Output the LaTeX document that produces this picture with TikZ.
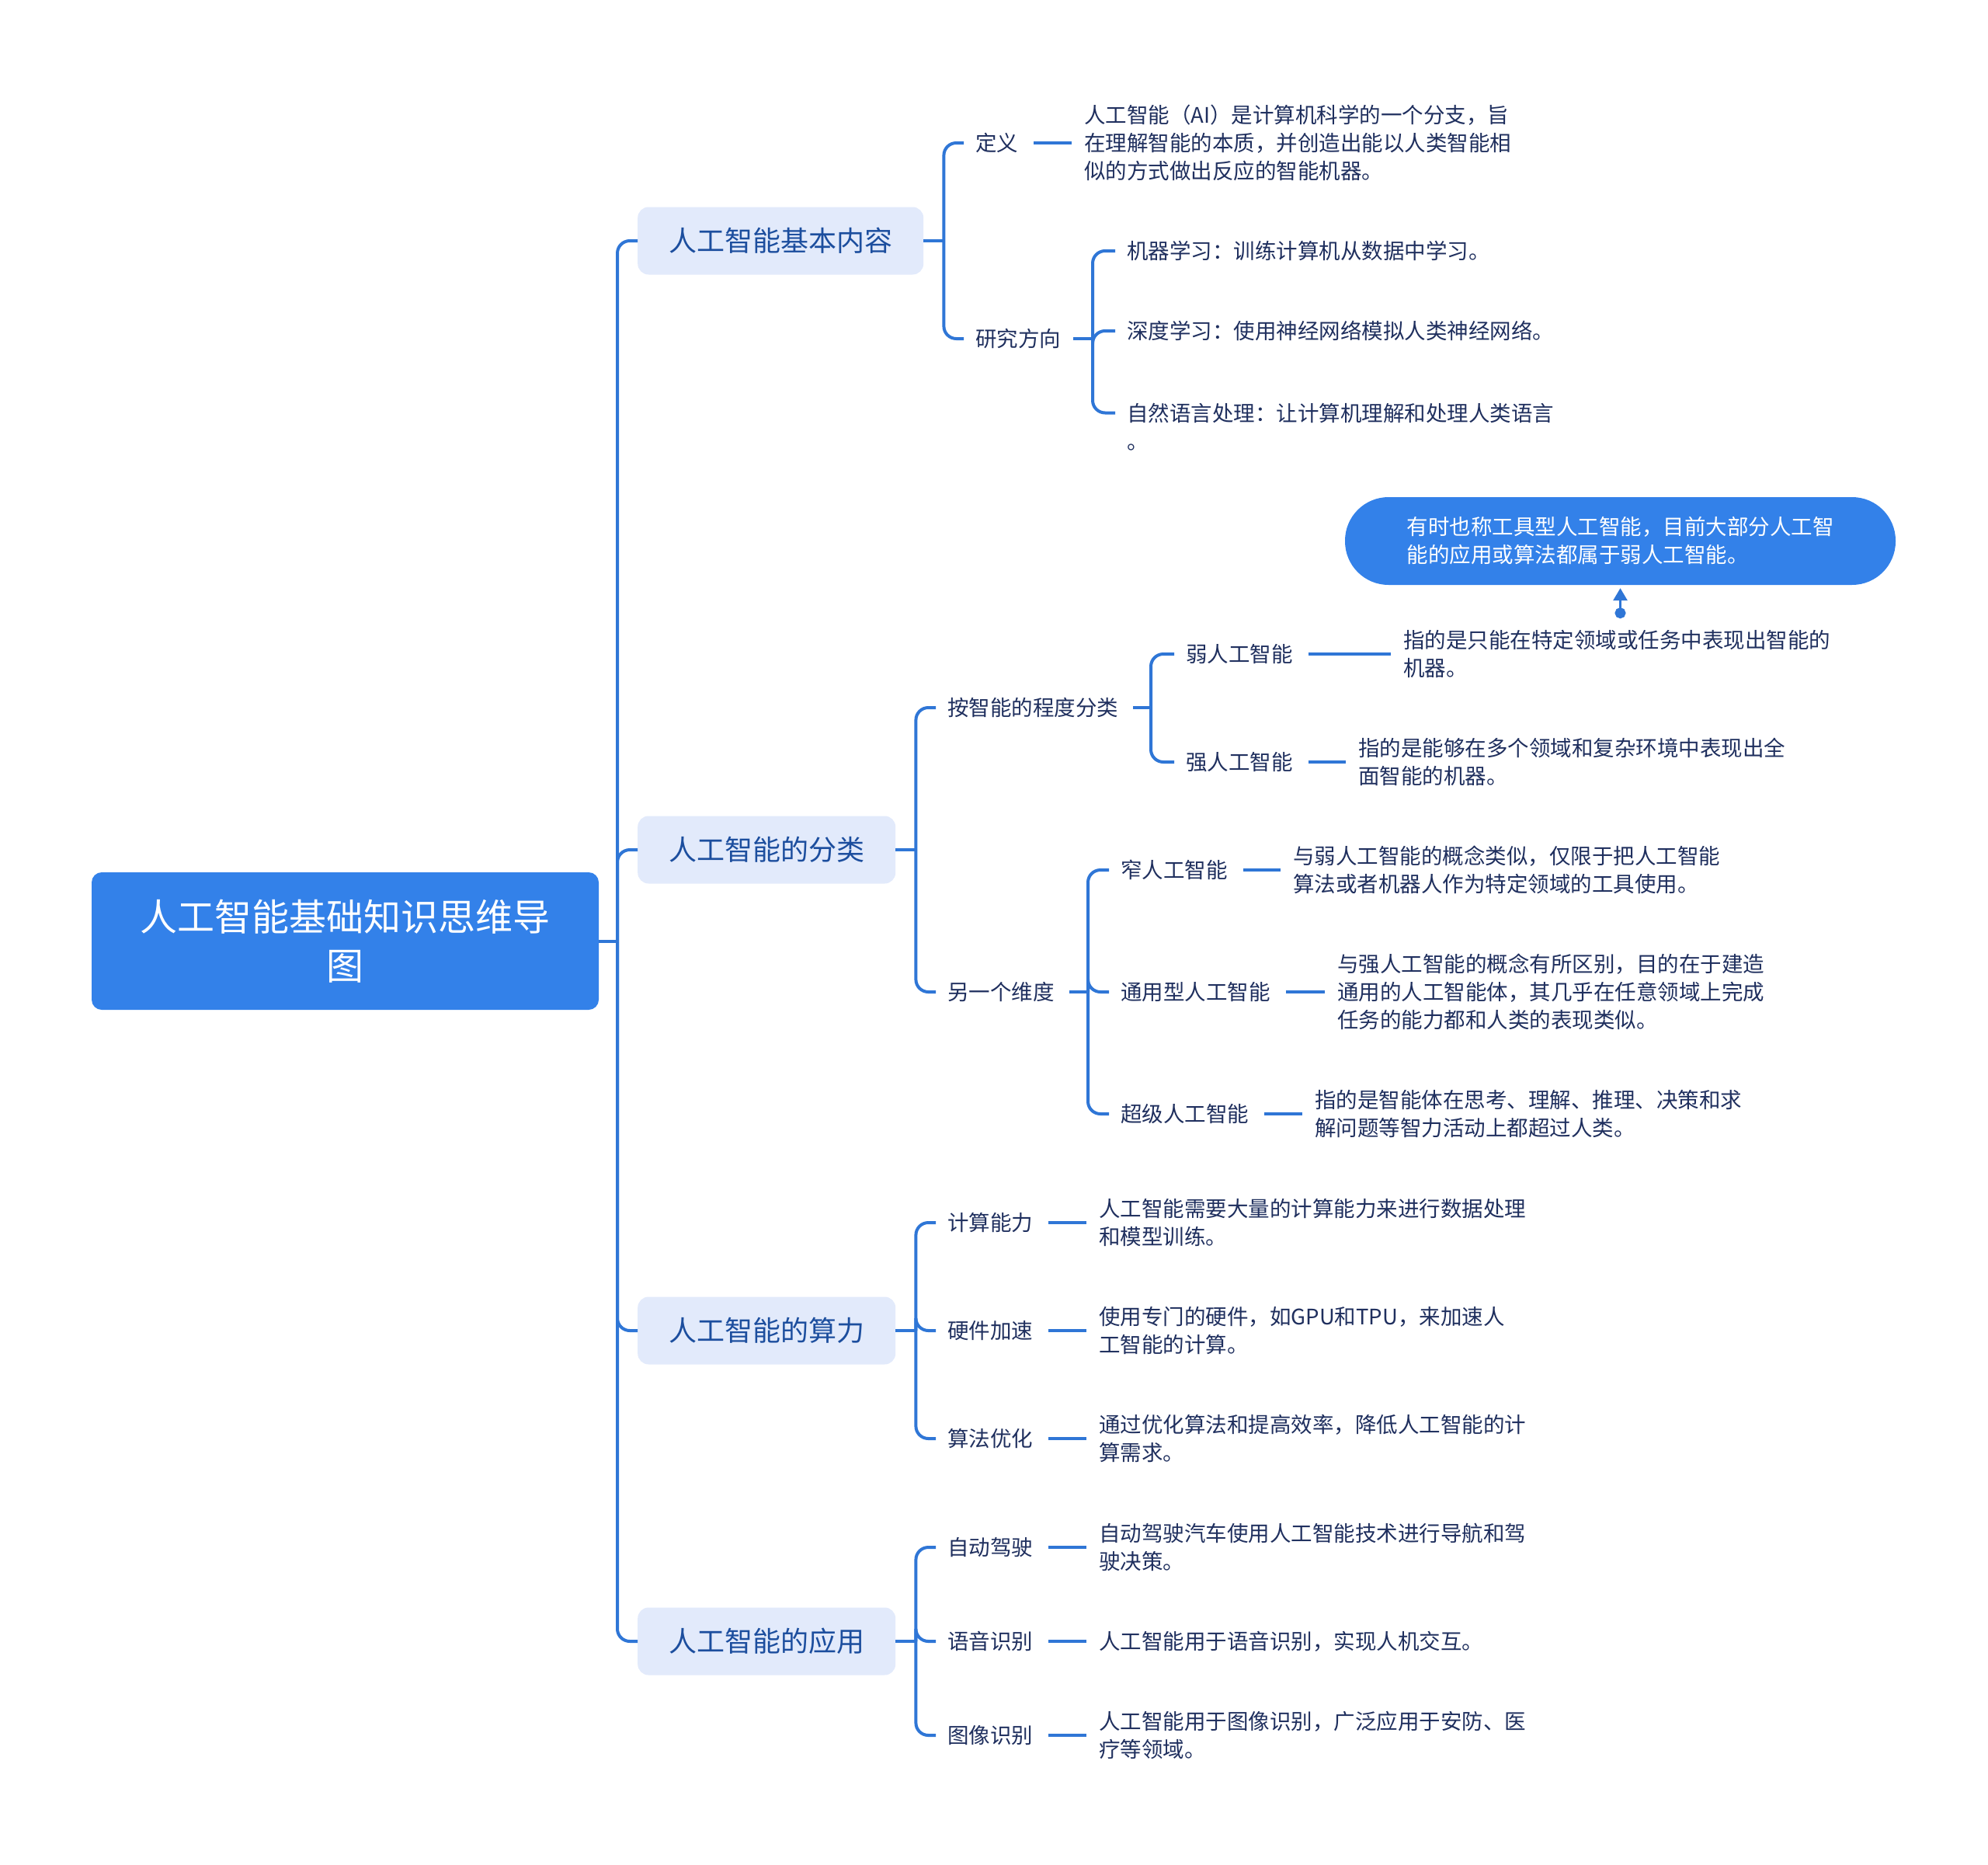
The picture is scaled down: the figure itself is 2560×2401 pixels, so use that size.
\documentclass[tikz,border=0pt]{standalone}
\usepackage{fontspec}
\setmainfont{Noto Sans CJK SC}
\usetikzlibrary{arrows.meta,calc}
\definecolor{lineblue}{HTML}{2F76D6}
\definecolor{rootblue}{HTML}{3381E9}
\definecolor{lonefill}{HTML}{E2EAFB}
\definecolor{lonetext}{HTML}{1C4E9E}
\definecolor{txtcol}{HTML}{1F2F5E}
\begin{document}
\begin{tikzpicture}[x=1pt,y=-1pt,
  conn/.style={draw=lineblue, line width=4pt},
  bracketline/.style={draw=lineblue, line width=4pt, rounded corners=16pt},
  rootbox/.style={fill=rootblue, rounded corners=13pt, minimum width=653pt, minimum height=177pt,
    text=white, align=center, inner sep=0pt, font=\fontsize{48pt}{63pt}\selectfont},
  lonebox/.style={fill=lonefill, rounded corners=14pt, minimum height=87pt, text=lonetext,
    inner sep=0pt, anchor=west, font=\fontsize{36pt}{44pt}\selectfont},
  ltwo/.style={text=txtcol, inner xsep=15pt, inner ysep=2pt, anchor=west, align=left,
    font=\fontsize{27.5pt}{36pt}\selectfont},
  detail/.style={ltwo},
  calloutbox/.style={fill=rootblue, rounded corners=56pt, minimum width=709pt, minimum height=113pt,
    text=white, align=left, inner sep=0pt, font=\fontsize{27.5pt}{36pt}\selectfont},
  calloutarrow/.style={draw=lineblue, fill=lineblue, line width=3pt,
    {Circle[length=14pt]}-{Triangle[length=16pt,width=18pt]}}
]
\useasboundingbox (0,0) rectangle (2560,2401);

% root
\node[rootbox] (root) at (444.5,1211.5) {人工智能基础知识思维导\\图};
\coordinate (trunk) at (795,1211.5);
\draw[conn] (root.east) -- (trunk);

% level 1
\node[lonebox, minimum width=368pt] (b1) at (821,310) {人工智能基本内容};
\node[lonebox, minimum width=332pt] (b2) at (821,1094) {人工智能的分类};
\node[lonebox, minimum width=332pt] (b3) at (821,1713) {人工智能的算力};
\node[lonebox, minimum width=332pt] (b4) at (821,2113) {人工智能的应用};
\foreach \b in {b1,b2,b3,b4} \draw[bracketline] (trunk) |- (\b.west);

% ---- branch 1
\coordinate (k1) at ($(b1.east)+(26,0)$);
\draw[conn] (b1.east) -- (k1);
\node[ltwo] (c11) at (1241,184) {定义};
\node[ltwo] (c12) at (1241,436) {研究方向};
\draw[bracketline] (k1) |- (c11.west);
\draw[bracketline] (k1) |- (c12.west);
\node[detail] (d11) at (1381,184) {人工智能（AI）是计算机科学的一个分支，旨\\在理解智能的本质，并创造出能以人类智能相\\似的方式做出反应的智能机器。};
\draw[conn] ([xshift=5pt]c11.east) -- ([xshift=-1pt]d11.west);

\coordinate (k12) at (1407,436);
\draw[conn] ([xshift=1pt]c12.east) -- (k12);
\node[ltwo] (c121) at (1436,323) {机器学习：训练计算机从数据中学习。};
\node[ltwo] (c122) at (1436,426) {深度学习：使用神经网络模拟人类神经网络。};
\node[ltwo] (c123) at (1436,549.5) {自然语言处理：让计算机理解和处理人类语言\\。};
\draw[bracketline] (k12) |- (c121.west);
\draw[bracketline] (k12) |- (c122.west);
\draw[bracketline] (k12) |- ([yshift=18pt]c123.west);

% ---- branch 2
\coordinate (k2) at ($(b2.east)+(26,0)$);
\draw[conn] (b2.east) -- (k2);
\node[ltwo] (c21) at (1205,911) {按智能的程度分类};
\node[ltwo] (c22) at (1205,1277) {另一个维度};
\draw[bracketline] (k2) |- (c21.west);
\draw[bracketline] (k2) |- (c22.west);

\coordinate (k21) at (1482,911);
\draw[conn] ([xshift=4pt]c21.east) -- (k21);
\node[ltwo] (c211) at (1512,842) {弱人工智能};
\node[ltwo] (c212) at (1512,981) {强人工智能};
\draw[bracketline] (k21) |- (c211.west);
\draw[bracketline] (k21) |- (c212.west);
\node[detail] (d211) at (1792,842) {指的是只能在特定领域或任务中表现出智能的\\机器。};
\node[detail] (d212) at (1734,981) {指的是能够在多个领域和复杂环境中表现出全\\面智能的机器。};
\draw[conn] ([xshift=5pt]c211.east) -- ([xshift=-1pt]d211.west);
\draw[conn] ([xshift=5pt]c212.east) -- ([xshift=-1pt]d212.west);

\node[calloutbox] (cb) at (2086.5,696.5) {有时也称工具型人工智能，目前大部分人工智\\能的应用或算法都属于弱人工智能。};
\draw[calloutarrow] ($(cb.south)+(0,43)$) -- ($(cb.south)+(0,4)$);

\coordinate (k22) at (1401,1277);
\draw[conn] ([xshift=4pt]c22.east) -- (k22);
\node[ltwo] (c221) at (1428,1120) {窄人工智能};
\node[ltwo] (c222) at (1428,1277) {通用型人工智能};
\node[ltwo] (c223) at (1428,1434) {超级人工智能};
\draw[bracketline] (k22) |- (c221.west);
\draw[bracketline] (k22) |- (c222.west);
\draw[bracketline] (k22) |- (c223.west);
\node[detail] (d221) at (1650,1120) {与弱人工智能的概念类似，仅限于把人工智能\\算法或者机器人作为特定领域的工具使用。};
\node[detail] (d222) at (1707,1277) {与强人工智能的概念有所区别，目的在于建造\\通用的人工智能体，其几乎在任意领域上完成\\任务的能力都和人类的表现类似。};
\node[detail] (d223) at (1678,1434) {指的是智能体在思考、理解、推理、决策和求\\解问题等智力活动上都超过人类。};
\draw[conn] ([xshift=5pt]c221.east) -- ([xshift=-1pt]d221.west);
\draw[conn] ([xshift=5pt]c222.east) -- ([xshift=-1pt]d222.west);
\draw[conn] ([xshift=5pt]c223.east) -- ([xshift=-1pt]d223.west);

% ---- branch 3
\coordinate (k3) at ($(b3.east)+(26,0)$);
\draw[conn] (b3.east) -- (k3);
\node[ltwo] (c31) at (1205,1574) {计算能力};
\node[ltwo] (c32) at (1205,1713) {硬件加速};
\node[ltwo] (c33) at (1205,1852) {算法优化};
\foreach \c in {c31,c32,c33} \draw[bracketline] (k3) |- (\c.west);
\node[detail] (d31) at (1400,1574) {人工智能需要大量的计算能力来进行数据处理\\和模型训练。};
\node[detail] (d32) at (1400,1713) {使用专门的硬件，如GPU和TPU，来加速人\\工智能的计算。};
\node[detail] (d33) at (1400,1852) {通过优化算法和提高效率，降低人工智能的计\\算需求。};
\draw[conn] ([xshift=5pt]c31.east) -- ([xshift=-1pt]d31.west);
\draw[conn] ([xshift=5pt]c32.east) -- ([xshift=-1pt]d32.west);
\draw[conn] ([xshift=5pt]c33.east) -- ([xshift=-1pt]d33.west);

% ---- branch 4
\coordinate (k4) at ($(b4.east)+(26,0)$);
\draw[conn] (b4.east) -- (k4);
\node[ltwo] (c41) at (1205,1992) {自动驾驶};
\node[ltwo] (c42) at (1205,2113) {语音识别};
\node[ltwo] (c43) at (1205,2234) {图像识别};
\foreach \c in {c41,c42,c43} \draw[bracketline] (k4) |- (\c.west);
\node[detail] (d41) at (1400,1992) {自动驾驶汽车使用人工智能技术进行导航和驾\\驶决策。};
\node[detail] (d42) at (1400,2113) {人工智能用于语音识别，实现人机交互。};
\node[detail] (d43) at (1400,2234) {人工智能用于图像识别，广泛应用于安防、医\\疗等领域。};
\draw[conn] ([xshift=5pt]c41.east) -- ([xshift=-1pt]d41.west);
\draw[conn] ([xshift=5pt]c42.east) -- ([xshift=-1pt]d42.west);
\draw[conn] ([xshift=5pt]c43.east) -- ([xshift=-1pt]d43.west);
\end{tikzpicture}
\end{document}
